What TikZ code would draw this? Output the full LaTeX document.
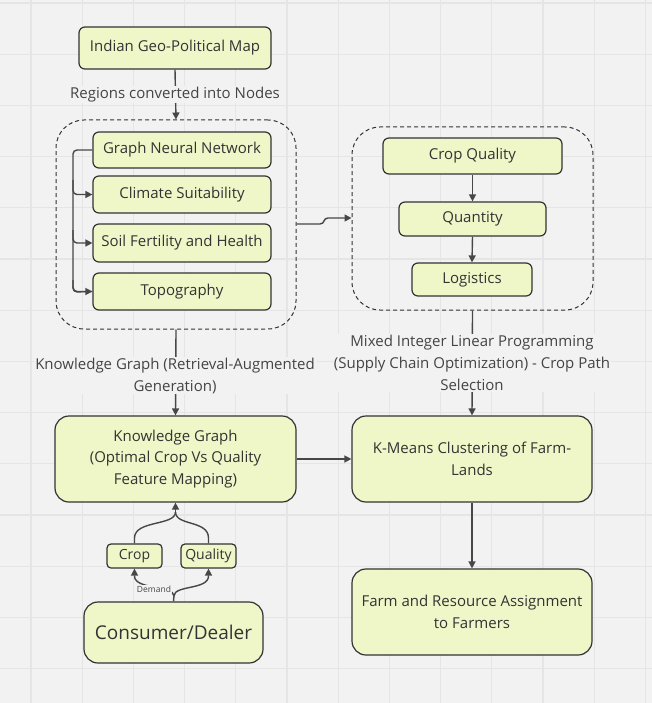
\documentclass[tikz,border=0pt]{standalone}
\usepackage{fontspec}
\setmainfont{Open Sans}
\usetikzlibrary{arrows.meta}
\definecolor{bg}{HTML}{F2F2F2}
\definecolor{gridc}{HTML}{E5E5E5}
\definecolor{boxfill}{HTML}{EFF7C9}
\definecolor{ink}{HTML}{333333}
\definecolor{lbl}{HTML}{444444}
\tikzset{
  box/.style={draw=ink, fill=boxfill, line width=1.2pt, rounded corners=6pt, text=ink, font=\fontsize{15}{21.5}\selectfont, align=center, inner sep=0pt},
  bigbox/.style={box, rounded corners=14pt},
  group/.style={draw=ink, dashed, line width=1pt, rounded corners=28pt, inner sep=0pt, dash pattern=on 4pt off 3pt},
  conn/.style={draw=ink!90, line width=1.4pt, -{Triangle[length=7pt,width=7pt]}},
  plain/.style={draw=ink!90, line width=1.4pt},
  lab/.style={fill=bg, text=lbl, font=\fontsize{15}{22}\selectfont, align=center, inner sep=1pt},
}
\begin{document}
\begin{tikzpicture}[x=1pt,y=-1pt]
\fill[bg] (0,0) rectangle (652,703);
\useasboundingbox (0,0) rectangle (652,703);
\foreach \i in {0,...,12} {\draw[gridc, line width=1.2pt] ({31+51.2*\i},0) -- ({31+51.2*\i},703);}
\foreach \j in {0,...,13} {\draw[gridc, line width=1.2pt] (0,{3+51.2*\j}) -- (652,{3+51.2*\j});}

% top
\node[box, minimum width=192pt, minimum height=42pt] (geo) at (175,48) {Indian Geo-Political Map};
\node[group, minimum width=240pt, minimum height=209pt] (lg) at (176,224.5) {};
\node[box, minimum width=178pt, minimum height=36pt] (gnn) at (182,150) {Graph Neural Network};
\node[box, minimum width=178pt, minimum height=37pt] (clim) at (182,194.5) {Climate Suitability};
\node[box, minimum width=178pt, minimum height=38pt] (soil) at (182,243) {Soil Fertility and Health};
\node[box, minimum width=178pt, minimum height=37pt] (topo) at (182,291.5) {Topography};

\node[group, minimum width=241pt, minimum height=183pt] (rg) at (472.5,218.5) {};
\node[box, minimum width=179pt, minimum height=36pt] (cq) at (472.5,156) {Crop Quality};
\node[box, minimum width=147pt, minimum height=34pt] (qty) at (472.5,219) {Quantity};
\node[box, minimum width=120pt, minimum height=33pt] (log) at (472,279.5) {Logistics};

\node[bigbox, minimum width=241pt, minimum height=86pt] (kg) at (175.5,459) {Knowledge Graph\\(Optimal Crop Vs Quality\\Feature Mapping)};
\node[bigbox, minimum width=240pt, minimum height=86pt] (km) at (472,459) {K-Means Clustering of Farm-\\Lands};
\node[bigbox, minimum width=240pt, minimum height=86pt] (farm) at (472,612) {Farm and Resource Assignment\\to Farmers};

\node[box, rounded corners=4pt, minimum width=55pt, minimum height=24pt, font=\fontsize{14}{16}\selectfont] (crop) at (134.5,556) {Crop};
\node[box, rounded corners=4pt, minimum width=55pt, minimum height=24pt, font=\fontsize{14}{16}\selectfont] (qual) at (208.5,556) {Quality};
\node[bigbox, minimum width=179pt, minimum height=61pt, font=\fontsize{19}{22}\selectfont] (cons) at (173.5,632.5) {Consumer/Dealer};

% connectors
\draw[conn] (geo.south) -- (lg.north);
\node[lab] (l1) at (175,95) {Regions converted into Nodes};

\coordinate (tr) at (73,150);
\draw[plain, rounded corners=4pt] (gnn.west) -- (tr) -- (73,292) -- (topo.west);
\draw[conn, rounded corners=4pt] (73,180) -- (73,194.5) -- (clim.west);
\draw[conn, rounded corners=4pt] (73,230) -- (73,243) -- (soil.west);
\draw[conn, rounded corners=4pt] (73,280) -- (73,291.5) -- (topo.west);

\coordinate (s1) at (320,224);
\coordinate (s2) at (328,218);
\draw[conn] (lg.east |- s1) -- (s1) .. controls (325,224) and (323,218) .. (s2) -- (rg.west |- s2);

\draw[conn] (cq.south) -- (qty.north);
\draw[conn] (qty.south) -- (log.north);

\draw[conn] (lg.south) -- (kg.north);
\node[lab] (l2) at (175,375.5) {Knowledge Graph (Retrieval-Augmented\\Generation)};

\draw[conn] (rg.south) -- (km.north);
\node[lab] (l3) at (472,363) {Mixed Integer Linear Programming\\(Supply Chain Optimization) - Crop Path\\Selection};

\draw[conn] (kg.east) -- (km.west);
\draw[conn] (km.south) -- (farm.north);

\coordinate (kgb) at (175.5,512);
\draw[plain] (crop.north) -- (134.5,538) .. controls (134.5,520) and (175.5,526) .. (kgb);
\draw[plain] (qual.north) -- (208.5,538) .. controls (208.5,520) and (175.5,526) .. (kgb);
\draw[conn] (kgb) -- (kg.south);

\coordinate (cb) at (174,596);
\draw[plain] (cons.north) -- (cb);
\draw[conn] (cb) .. controls (174,585) and (134.5,590) .. (134.5,576) -- (crop.south);
\draw[conn] (cb) .. controls (174,585) and (208.5,590) .. (208.5,576) -- (qual.south);
\node[lab, font=\fontsize{8.5}{9}\selectfont, inner sep=0.5pt] (dem) at (154,589) {Demand};
\end{tikzpicture}
\end{document}
